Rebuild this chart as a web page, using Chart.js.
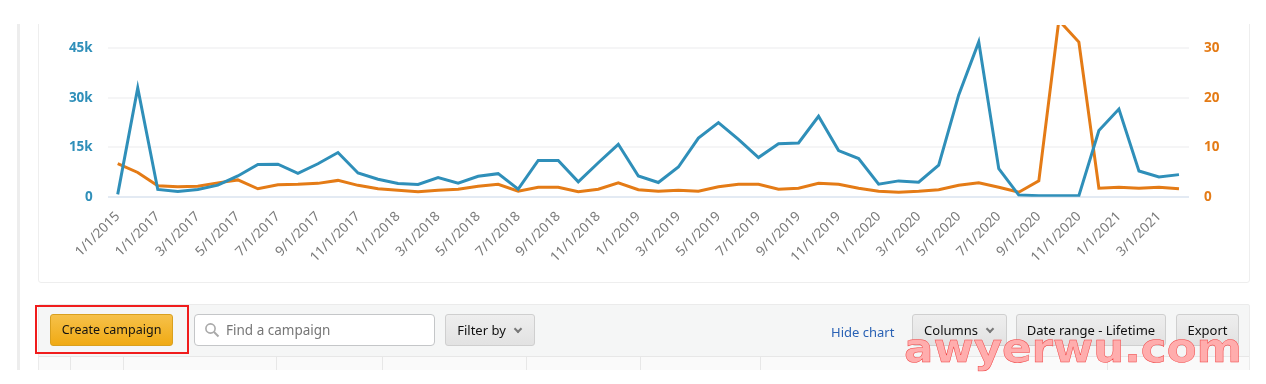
<!DOCTYPE html>
<html>
<head>
<meta charset="utf-8">
<title>Campaign chart</title>
<script src="https://cdn.jsdelivr.net/npm/chart.js@4/dist/chart.umd.min.js"></script>
<style>
html, body { margin: 0; padding: 0; background: #fff; }
body { width: 1266px; height: 384px; overflow: hidden; position: relative; font-family: "Noto Sans", sans-serif; }
#page { position: absolute; left: 0; top: 24px; width: 1266px; height: 346px; overflow: hidden; filter: blur(0.4px); }
.abs { position: absolute; box-sizing: border-box; }
#side { left: 17px; top: 0; width: 3px; height: 346px; background: #ededed; }
#card { left: 38px; top: -10px; width: 1212px; height: 269px; border: 1px solid #eee; border-radius: 3px; background: #fff; }
#chartBox { left: 40px; top: -22px; width: 1209px; height: 280px; }
#toolbar { left: 38px; top: 280px; width: 1212px; height: 80px; background: #f5f6f6; border: 1px solid #ebebeb; border-radius: 2px; }
#tableTop { left: 39px; top: 332px; width: 1210px; height: 14px; background: #fafafa; border-top: 1px solid #e7e7e7; }
.col { top: 333px; width: 1px; height: 13px; background: #e7e7e7; }
#redBox { left: 35px; top: 281px; width: 154px; height: 49px; border: 2px solid #f01c1c; }
#create { left: 50px; top: 290px; width: 123px; height: 32px; border-radius: 3px; background: linear-gradient(#f6c14a, #f0aa14); border: 1px solid #d9a01f; color: #111; font-size: 12.5px; line-height: 30px; text-align: center; }
#search { left: 194px; top: 290px; width: 241px; height: 32px; border: 1px solid #c4c6c8; border-radius: 4px; background: #fff; color: #767676; font-size: 13.5px; line-height: 30px; padding-left: 31px; }
#search svg { position: absolute; left: 9px; top: 7px; }
.btn { top: 290px; height: 32px; background: linear-gradient(#eeeeee, #e2e2e2); border: 1px solid #cfcfcf; border-radius: 3px; color: #111; font-size: 13px; line-height: 30px; text-align: center; }
.caret { display: inline-block; width: 4px; height: 4px; border-right: 2px solid #777; border-bottom: 2px solid #777; transform: rotate(45deg); margin: 0 2px 3px 9px; }
#hide { left: 831px; top: 299px; color: #2a62b5; font-size: 13px; }
#mark { left: 904px; top: 328px; color: #ffadad; font-family: "DejaVu Sans", sans-serif; font-weight: bold; font-size: 44px; line-height: 44px; -webkit-text-stroke: 0.5px #f04040; white-space: nowrap; transform-origin: left top; transform: scale(0.99, 0.92); }
</style>
</head>
<body>
<div id="page">
  <div class="abs" id="side"></div>
  <div class="abs" id="card"></div>
  <div class="abs" id="chartBox"><canvas id="chart" width="1209" height="280"></canvas></div>
  <div class="abs" id="toolbar"></div>
  <div class="abs" id="tableTop"></div>
  <div class="abs col" style="left:70px"></div>
  <div class="abs col" style="left:123px"></div>
  <div class="abs col" style="left:276px"></div>
  <div class="abs col" style="left:382px"></div>
  <div class="abs col" style="left:526px"></div>
  <div class="abs col" style="left:640px"></div>
  <div class="abs col" style="left:760px"></div>
  <div class="abs col" style="left:984px"></div>
  <div class="abs col" style="left:1107px"></div>
  <div class="abs" id="redBox"></div>
  <div class="abs" id="create">Create campaign</div>
  <div class="abs" id="search"><svg width="16" height="16" viewBox="0 0 16 16"><circle cx="6.5" cy="6.5" r="4.6" fill="none" stroke="#a9a9a9" stroke-width="1.6"/><line x1="10" y1="10" x2="14.5" y2="14.5" stroke="#a9a9a9" stroke-width="2"/></svg>Find a campaign</div>
  <div class="abs btn" style="left:445px;width:90px">Filter by<span class="caret"></span></div>
  <div class="abs" id="hide">Hide chart</div>
  <div class="abs btn" style="left:912px;width:95px">Columns<span class="caret"></span></div>
  <div class="abs btn" style="left:1016px;width:150px">Date range - Lifetime</div>
  <div class="abs btn" style="left:1176px;width:63px">Export</div>
</div>
<div class="abs" id="mark">awyerwu.com</div>
<script>
// month labels on the x axis, only every second one gets shown
const labels = ['1/1/2015', '1/1/2016',
    '1/1/2017', '2/1/2017', '3/1/2017', '4/1/2017', '5/1/2017', '6/1/2017', '7/1/2017', '8/1/2017', '9/1/2017', '10/1/2017', '11/1/2017', '12/1/2017',
    '1/1/2018', '2/1/2018', '3/1/2018', '4/1/2018', '5/1/2018', '6/1/2018', '7/1/2018', '8/1/2018', '9/1/2018', '10/1/2018', '11/1/2018', '12/1/2018',
    '1/1/2019', '2/1/2019', '3/1/2019', '4/1/2019', '5/1/2019', '6/1/2019', '7/1/2019', '8/1/2019', '9/1/2019', '10/1/2019', '11/1/2019', '12/1/2019',
    '1/1/2020', '2/1/2020', '3/1/2020', '4/1/2020', '5/1/2020', '6/1/2020', '7/1/2020', '8/1/2020', '9/1/2020', '10/1/2020', '11/1/2020', '12/1/2020',
    '1/1/2021', '2/1/2021', '3/1/2021', '4/1/2021'];

const blue_values = [700, 33000, 2200, 1600, 2200, 3500, 6300, 9800, 9850, 7100, 10000, 13400, 7200, 5300, 4000, 3700,
    5800, 4100, 6200, 7000, 2300, 11000, 11000, 4500, 10300, 15900, 6300, 4300, 9000, 17800, 22500, 17400, 11900, 16100, 16300, 24400,
    14000, 11600, 3800, 4800, 4400, 9600, 30900, 47000, 8500, 500, 300, 300, 300, 20100, 26600, 7800, 6000, 6700];

const orange_values = [6.7, 4.9, 2.2, 2.0, 2.1, 2.8, 3.4, 1.6, 2.4, 2.5, 2.7, 3.3, 2.3, 1.6, 1.3, 1.0,
    1.3, 1.5, 2.1, 2.5, 1.1, 1.9, 1.9, 1.0, 1.5, 2.8, 1.4, 1.1, 1.3, 1.1, 2.0, 2.5, 2.5, 1.5, 1.7, 2.7,
    2.5, 1.7, 1.1, 0.9, 1.1, 1.4, 2.3, 2.8, 1.9, 0.9, 3.2, 35.7, 31.3, 1.7, 1.9, 1.7, 1.9, 1.6];

const left_ticks = [0, 15000, 30000, 45000];
const right_ticks = [0, 10, 20, 30];

const blue = '#2f8fb9';
const orange = '#e47b16';

function only_ticks(list) {
    return function(axis) {
        axis.ticks = list.map(function(v) { return { value: v }; });
    };
}

new Chart(document.getElementById('chart'), {
    type: 'line',
    data: {
        labels: labels,
        datasets: [
            { label: 'Blue', data: blue_values, yAxisID: 'y', borderColor: blue, borderWidth: 3, pointRadius: 0, tension: 0, borderJoinStyle: 'miter' },
            { label: 'Orange', data: orange_values, yAxisID: 'y1', borderColor: orange, borderWidth: 3, pointRadius: 0, tension: 0, borderJoinStyle: 'miter' }
        ]
    },
    options: {
        responsive: false,
        animation: false,
        layout: { padding: 0 },
        plugins: { legend: { display: false }, tooltip: { enabled: false } },
        scales: {
            x: {
                offset: true,
                afterFit: function(axis) { axis.height = 85.3; },
                grid: { display: false },
                border: { display: false },
                ticks: {
                    autoSkip: false,
                    minRotation: 45,
                    maxRotation: 45,
                    padding: 4,
                    color: '#7a7a7a',
                    font: { family: '"Noto Sans"', size: 13.5 },
                    callback: function(v, i) { return i % 2 === 0 ? labels[i] : null; }
                }
            },
            y: {
                position: 'left',
                min: 0,
                max: 52090,
                afterBuildTicks: only_ticks(left_ticks),
                afterFit: function(axis) { axis.width = 67.7; },
                border: { display: false },
                grid: {
                    drawTicks: false,
                    lineWidth: 2,
                    color: function(c) { return c.tick.value === 0 ? '#e3eaf3' : '#f5f5f6'; }
                },
                ticks: {
                    padding: 15,
                    color: blue,
                    font: { family: '"Noto Sans"', size: 13.5, weight: 'bold' },
                    callback: function(v) { return v === 0 ? '0' : (v / 1000) + 'k'; }
                }
            },
            y1: {
                position: 'right',
                min: 0,
                max: 34.73,
                afterBuildTicks: only_ticks(right_ticks),
                afterFit: function(axis) { axis.width = 60; },
                border: { display: false },
                grid: { display: false, drawTicks: false },
                ticks: {
                    padding: 15,
                    color: orange,
                    font: { family: '"Noto Sans"', size: 13.5, weight: 'bold' }
                }
            }
        }
    }
});
</script>
</body>
</html>
